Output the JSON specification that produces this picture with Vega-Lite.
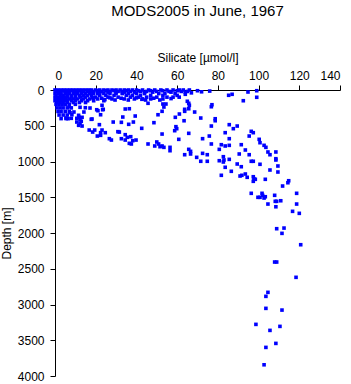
{
  "$schema": "https://vega.github.io/schema/vega-lite/v6.json",
  "width": 285,
  "height": 286,
  "autosize": {"type": "none"},
  "padding": {"left": 55, "top": 90, "right": 11, "bottom": 8},
  "background": "white",
  "title": {"text": "MODS2005 in June, 1967", "font": "Liberation Sans", "fontSize": 15, "fontWeight": "normal", "color": "black", "anchor": "middle", "offset": 32},
  "config": {"view": {"stroke": null}},
  "data": {"values": [
    {"s":0,"d":0},{"s":1.5,"d":0},{"s":3,"d":0},{"s":4.5,"d":0},{"s":6,"d":0},{"s":7.5,"d":0},{"s":9,"d":0},{"s":10.5,"d":0},{"s":12,"d":0},{"s":13.5,"d":0},{"s":15,"d":0},{"s":16.5,"d":0},{"s":18,"d":0},{"s":20,"d":0},{"s":22,"d":0},{"s":24,"d":0},{"s":26,"d":0},{"s":28,"d":0},{"s":30,"d":0},{"s":32,"d":0},{"s":34,"d":0},{"s":36,"d":0},{"s":38,"d":0},{"s":40,"d":0},{"s":43,"d":0},{"s":46,"d":0},{"s":49,"d":0},{"s":52,"d":0},{"s":55,"d":0},{"s":58,"d":0},{"s":61,"d":0},{"s":63,"d":0},{"s":66,"d":0},
    {"s":1,"d":10},{"s":4,"d":10},{"s":8,"d":10},{"s":12,"d":10},{"s":17,"d":10},{"s":21,"d":10},{"s":25,"d":10},{"s":29,"d":10},{"s":35,"d":10},{"s":41,"d":10},{"s":47,"d":10},{"s":53,"d":10},{"s":60,"d":10},
    {"s":0.5,"d":20},{"s":2.5,"d":20},{"s":5,"d":20},{"s":7,"d":20},{"s":9.5,"d":20},{"s":11,"d":20},{"s":14,"d":20},{"s":16,"d":20},{"s":19,"d":20},{"s":23,"d":20},{"s":27,"d":20},{"s":31,"d":20},{"s":33,"d":20},{"s":37,"d":20},{"s":42,"d":20},{"s":45,"d":20},{"s":50,"d":20},{"s":56,"d":20},{"s":62,"d":20},{"s":65,"d":20},
    {"s":2,"d":30},{"s":6,"d":30},{"s":10,"d":30},{"s":13,"d":30},{"s":18,"d":30},{"s":22,"d":30},{"s":26,"d":30},{"s":30,"d":30},{"s":34,"d":30},{"s":39,"d":30},{"s":44,"d":30},{"s":48,"d":30},{"s":57,"d":30},{"s":64,"d":30},
    {"s":0,"d":50},{"s":1.5,"d":50},{"s":3,"d":50},{"s":5,"d":50},{"s":7,"d":50},{"s":9,"d":50},{"s":11,"d":50},{"s":13,"d":50},{"s":15,"d":50},{"s":17,"d":50},{"s":19,"d":50},{"s":21,"d":50},{"s":24,"d":50},{"s":27,"d":50},{"s":30,"d":50},{"s":33,"d":50},{"s":36,"d":50},{"s":40,"d":50},{"s":44,"d":50},{"s":51,"d":50},{"s":54,"d":50},{"s":59,"d":50},
    {"s":0.5,"d":75},{"s":2.5,"d":75},{"s":4,"d":75},{"s":6,"d":75},{"s":8,"d":75},{"s":10,"d":75},{"s":12,"d":75},{"s":14,"d":75},{"s":16,"d":75},{"s":18,"d":75},{"s":22,"d":75},{"s":25,"d":75},{"s":29,"d":75},{"s":35,"d":75},{"s":38,"d":75},{"s":42,"d":75},{"s":47,"d":75},{"s":53,"d":75},{"s":60,"d":75},
    {"s":0,"d":100},{"s":1.5,"d":100},{"s":3,"d":100},{"s":4.5,"d":100},{"s":6,"d":100},{"s":8,"d":100},{"s":10,"d":100},{"s":12.5,"d":100},{"s":15,"d":100},{"s":20,"d":100},{"s":26,"d":100},{"s":31,"d":100},{"s":37,"d":100},{"s":41,"d":100},{"s":45,"d":100},{"s":50,"d":100},{"s":55,"d":100},{"s":58,"d":100},
    {"s":0.5,"d":125},{"s":2,"d":125},{"s":3.5,"d":125},{"s":5,"d":125},{"s":7,"d":125},{"s":9,"d":125},{"s":11,"d":125},{"s":14,"d":125},{"s":17,"d":125},{"s":21,"d":125},{"s":28,"d":125},{"s":34,"d":125},{"s":39,"d":125},{"s":43,"d":125},{"s":47,"d":125},{"s":53,"d":125},
    {"s":18.5,"d":110},{"s":23,"d":115},{"s":24.5,"d":135},{"s":27,"d":110},{"s":29.5,"d":140},{"s":32.5,"d":115},{"s":36,"d":140},{"s":40,"d":110},{"s":44.5,"d":140},{"s":48.5,"d":115},{"s":51.5,"d":140},{"s":57,"d":120},{"s":61,"d":100},{"s":64,"d":60},{"s":67,"d":40},{"s":70,"d":10},{"s":72,"d":25},{"s":76,"d":15},{"s":87,"d":60},
    {"s":0,"d":150},{"s":1.5,"d":150},{"s":3,"d":150},{"s":4.5,"d":150},{"s":6,"d":150},{"s":8,"d":150},{"s":10,"d":150},{"s":13,"d":150},{"s":16,"d":150},{"s":19,"d":150},{"s":24,"d":150},
    {"s":1,"d":175},{"s":2.5,"d":175},{"s":4,"d":175},{"s":6,"d":175},{"s":9,"d":175},{"s":12,"d":175},{"s":15,"d":175},
    {"s":0.5,"d":200},{"s":2,"d":200},{"s":3.5,"d":200},{"s":5,"d":200},{"s":7,"d":200},{"s":10,"d":200},
    {"s":1,"d":250},{"s":2.5,"d":250},{"s":4,"d":250},{"s":6,"d":250},{"s":8,"d":250},
    {"s":1.5,"d":300},{"s":3,"d":300},{"s":5,"d":300},{"s":7,"d":300},
    {"s":2,"d":350},{"s":4,"d":350},{"s":6,"d":350},
    {"s":3,"d":400},{"s":5.5,"d":400},
    {"s":5.4,"d":392},{"s":6.4,"d":401},{"s":7.4,"d":318},{"s":8.3,"d":346},{"s":9.3,"d":308},{"s":7.0,"d":234},{"s":12.3,"d":242},{"s":11.6,"d":354},{"s":11.9,"d":382},{"s":13.3,"d":382},{"s":14.2,"d":308},{"s":10.7,"d":448},{"s":12.3,"d":466},{"s":12.9,"d":438},{"s":11.6,"d":494},{"s":13.3,"d":504},{"s":17.2,"d":252},{"s":17.8,"d":410},{"s":21.1,"d":290},{"s":23.1,"d":214},{"s":23.7,"d":270},{"s":22.4,"d":346},{"s":28.6,"d":448},{"s":31.6,"d":588},{"s":36.5,"d":262},{"s":39.4,"d":364},{"s":38.5,"d":448},{"s":34.5,"d":625},{"s":35.5,"d":662},{"s":37.2,"d":653},{"s":38.2,"d":709},{"s":39.8,"d":700},{"s":37.5,"d":755},{"s":16.8,"d":560},{"s":18.5,"d":588},{"s":19.5,"d":560},{"s":21.8,"d":485},{"s":23.1,"d":560},{"s":22.4,"d":597},{"s":24.7,"d":597},{"s":20.8,"d":644},{"s":22.4,"d":634},{"s":26.7,"d":681},{"s":27.7,"d":700},{"s":45.7,"d":755},{"s":45.7,"d":186},{"s":42.7,"d":130},{"s":61.1,"d":336},{"s":52.6,"d":298},{"s":59.1,"d":382},{"s":65.7,"d":186},{"s":42.6,"d":536},{"s":14.9,"d":248},{"s":20.5,"d":276},{"s":23.4,"d":276},{"s":18.2,"d":406},{"s":33.3,"d":378},{"s":34.5,"d":266},{"s":30.9,"d":583},{"s":32.6,"d":452},{"s":36.2,"d":480},{"s":8.0,"d":396},{"s":10.7,"d":396},{"s":12.3,"d":415},{"s":32.6,"d":681},{"s":34.5,"d":700},{"s":36.5,"d":746},
    {"s":85.3,"d":74},{"s":94.8,"d":28},{"s":99.1,"d":10},{"s":99.1,"d":102},{"s":92.5,"d":150},{"s":53.0,"d":196},{"s":54.5,"d":196},{"s":53.5,"d":238},{"s":65.0,"d":158},{"s":66.0,"d":214},{"s":63.7,"d":270},{"s":63.7,"d":298},{"s":65.7,"d":262},{"s":68.6,"d":308},{"s":77.1,"d":206},{"s":76.8,"d":234},{"s":50.6,"d":346},{"s":48.6,"d":457},{"s":63.4,"d":430},{"s":71.6,"d":392},{"s":78.7,"d":402},{"s":78.7,"d":430},{"s":59.4,"d":513},{"s":59.8,"d":541},{"s":58.8,"d":569},{"s":65.7,"d":606},{"s":52.6,"d":616},{"s":76.8,"d":504},{"s":85.6,"d":485},{"s":87.6,"d":541},{"s":89.5,"d":504},{"s":83.6,"d":597},{"s":96.4,"d":578},{"s":97.4,"d":597},{"s":75.8,"d":644},{"s":85.6,"d":681},{"s":72.5,"d":681},{"s":95.4,"d":644},{"s":100.3,"d":690},{"s":100.7,"d":737},{"s":60.8,"d":690},{"s":50.0,"d":727},{"s":50.9,"d":755},{"s":49.0,"d":783},{"s":51.6,"d":793},{"s":53.5,"d":802},{"s":52.6,"d":783},{"s":56.5,"d":802},{"s":56.5,"d":849},{"s":76.8,"d":755},{"s":81.7,"d":765},{"s":83.6,"d":783},{"s":85.6,"d":774},{"s":91.5,"d":765},{"s":102.7,"d":774},{"s":103.6,"d":802},{"s":80.7,"d":830},{"s":93.5,"d":839},{"s":65.7,"d":830},{"s":66.6,"d":858},{"s":66.6,"d":895},{"s":63.7,"d":905},{"s":72.5,"d":886},{"s":74.8,"d":905},{"s":69.6,"d":942},{"s":71.6,"d":997},{"s":74.8,"d":997},{"s":82.7,"d":933},{"s":83.0,"d":979},{"s":82.7,"d":1007},{"s":80.7,"d":989},{"s":85.6,"d":970},{"s":90.5,"d":895},{"s":95.4,"d":905},{"s":100.7,"d":1039},{"s":89.5,"d":1035},{"s":91.5,"d":1073},{"s":96.4,"d":997},{"s":97.4,"d":997},{"s":104.6,"d":867},{"s":105.6,"d":905},{"s":108.5,"d":867},{"s":108.5,"d":961},{"s":108.5,"d":979},{"s":109.5,"d":1063},{"s":105.6,"d":1119},{"s":109.5,"d":1147},{"s":83.6,"d":1081},{"s":86.6,"d":1137},{"s":81.7,"d":1193},{"s":90.9,"d":1203},{"s":91.8,"d":1193},{"s":93.5,"d":1175},{"s":94.4,"d":1221},{"s":97.4,"d":1213},{"s":97.7,"d":1241},{"s":98.4,"d":1249},{"s":97.4,"d":1277},{"s":103.3,"d":1249},{"s":114.8,"d":1269},{"s":114.4,"d":1297},{"s":111.8,"d":1343},{"s":96.4,"d":1445},{"s":101.7,"d":1445},{"s":102.0,"d":1473},{"s":99.7,"d":1501},{"s":100.7,"d":1501},{"s":102.7,"d":1511},{"s":103.3,"d":1493},{"s":107.9,"d":1473},{"s":118.7,"d":1445},{"s":104.6,"d":1595},{"s":108.2,"d":1557},{"s":108.9,"d":1557},{"s":110.9,"d":1549},{"s":108.5,"d":1633},{"s":118.7,"d":1595},{"s":116.7,"d":1697},{"s":120.0,"d":1725},{"s":108.9,"d":1940},{"s":112.5,"d":1931},{"s":111.5,"d":2005},{"s":120.7,"d":2164},{"s":107.9,"d":2406},{"s":108.9,"d":2406},{"s":118.4,"d":2620},{"s":104.6,"d":2830},{"s":103.6,"d":2886},{"s":103.6,"d":3054},{"s":111.5,"d":3078},{"s":98.7,"d":3278},{"s":105.6,"d":3362},{"s":110.5,"d":3306},{"s":108.5,"d":3544},{"s":103.6,"d":3600},{"s":102.7,"d":3843}
  ]},
  "mark": {"type": "square", "filled": true, "color": "#0000ff", "size": 13, "opacity": 1},
  "encoding": {
    "x": {"field": "s", "type": "quantitative", "scale": {"domain": [0, 140], "nice": false, "zero": false},
      "axis": {"orient": "top", "title": "Silicate [µmol/l]", "values": [0,20,40,60,80,100,120,140], "format": "d", "grid": false,
        "domainColor": "black", "tickColor": "black", "tickSize": 5, "labelColor": "black", "labelFont": "Liberation Sans", "labelFontSize": 12, "labelPadding": 3,
        "titleFont": "Liberation Sans", "titleFontSize": 12, "titleFontWeight": "normal", "titleColor": "black", "titlePadding": 5}},
    "y": {"field": "d", "type": "quantitative", "scale": {"domain": [0, 4000], "reverse": true, "nice": false, "zero": false},
      "axis": {"title": "Depth [m]", "values": [0,500,1000,1500,2000,2500,3000,3500,4000], "format": "d", "grid": false,
        "domainColor": "black", "tickColor": "black", "tickSize": 5, "labelColor": "black", "labelFont": "Liberation Sans", "labelFontSize": 12, "labelPadding": 6,
        "titleFont": "Liberation Sans", "titleFontSize": 12, "titleFontWeight": "normal", "titleColor": "black", "titlePadding": 4}}
  }
}
